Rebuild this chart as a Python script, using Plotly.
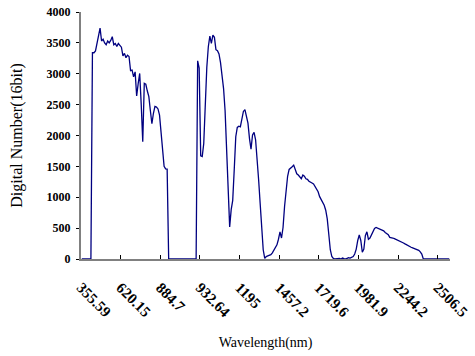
import plotly.graph_objects as go

# Hyperion band index (1..242) and Digital Number values
bands = list(range(1, 243))
dn_values = [
    0, 0, 0, 0, 0, 0, 0, 3340, 3340, 3370,            # 1-10
    3480, 3600, 3740, 3530, 3560, 3500, 3470, 3530, 3500, 3540,  # 11-20
    3600, 3470, 3490, 3440, 3490, 3460, 3430, 3290, 3330, 3260,  # 21-30
    3300, 3280, 3050, 3060, 2950, 3030, 2640, 2840, 3005, 2500,  # 31-40
    1900, 2845, 2830, 2720, 2630, 2400, 2190, 2360, 2470, 2460,  # 41-50
    2430, 2330, 2040, 1720, 1500, 1460, 1455, 0, 0, 0,           # 51-60
    0, 0, 0, 0, 0, 0, 0, 0, 0, 0,                                # 61-70
    0, 0, 0, 0, 0, 0, 3210, 3090, 1670, 1660,                    # 71-80
    1870, 2500, 3100, 3437, 3610, 3490, 3625, 3590, 3390, 3373,  # 81-90
    3320, 3180, 2990, 2760, 2400, 1860, 1240, 520, 800, 950,     # 91-100
    1450, 1980, 2130, 2150, 2140, 2260, 2390, 2420, 2310, 2200,  # 101-110
    1950, 1780, 2010, 2050, 1930, 1650, 1280, 900, 560, 150,     # 111-120
    10, 40, 50, 55, 70, 100, 140, 180, 230, 320,                 # 121-130
    440, 340, 510, 850, 1130, 1340, 1450, 1480, 1495, 1520,      # 131-140
    1430, 1380, 1360, 1320, 1300, 1360, 1340, 1300, 1290, 1260,  # 141-150
    1250, 1230, 1215, 1180, 1140, 1090, 1010, 960, 920, 870,     # 151-160
    790, 650, 400, 150, 40, 10, 0, 5, 0, 10,                     # 161-170
    0, 15, 5, 0, 10, 20, 15, 25, 40, 80,                         # 171-180
    160, 300, 390, 300, 110, 160, 380, 440, 320, 340,            # 181-190
    400, 450, 496, 510, 500, 490, 480, 470, 455, 430,            # 191-200
    410, 395, 350, 350, 340, 330, 320, 300, 290, 280,            # 201-210
    270, 260, 245, 230, 210, 200, 190, 180, 170, 165,            # 211-220
    150, 140, 115, 80, 0, 0, 0, 0, 0, 0,                         # 221-230
    0, 0, 0, 0, 0, 0, 0, 0, 0, 0,                                # 231-240
    0, 0,                                                        # 241-242
]

# category labels shown every 26 bands
label_bands = [1, 27, 53, 79, 105, 131, 157, 183, 209, 235]
label_texts = ["355.59", "620.15", "884.7", "932.64", "1195",
               "1457.2", "1719.6", "1981.9", "2244.2", "2506.5"]
y_ticks = [0, 500, 1000, 1500, 2000, 2500, 3000, 3500, 4000]

SERIF = "Liberation Serif, Times New Roman, serif"

fig = go.Figure()
fig.add_trace(go.Scatter(
    x=bands, y=dn_values, mode="lines",
    line=dict(color="#000080", width=1.3),
    showlegend=False, hoverinfo="x+y",
))

fig.update_layout(
    width=475, height=356,
    margin=dict(l=81, r=25, t=12, b=97),
    paper_bgcolor="white", plot_bgcolor="white",
    font=dict(family=SERIF, color="black"),
)

fig.update_xaxes(
    range=[0.5, 242.5],
    automargin=False,
    tickmode="array",
    tickvals=[b - 0.5 for b in label_bands],
    ticktext=label_texts,
    tickangle=45,
    ticks="inside", ticklen=4, tickwidth=1, tickcolor="black",
    ticklabelstandoff=12,
    tickfont=dict(family=SERIF, size=15, color="black", weight="bold"),
    showline=True, linecolor="#808080", linewidth=2,
    showgrid=False, zeroline=False,
    title=dict(text="Wavelength(nm)", font=dict(family=SERIF, size=14, color="black"), standoff=18),
)

fig.update_yaxes(
    range=[0, 4000],
    automargin=False,
    tickmode="array", tickvals=y_ticks, ticktext=[str(v) for v in y_ticks],
    ticks="outside", ticklen=3, tickwidth=1, tickcolor="black",
    ticklabelstandoff=3,
    tickfont=dict(family=SERIF, size=12, color="black", weight="bold"),
    showline=True, linecolor="#808080", linewidth=2,
    showgrid=False, zeroline=False,
    title=dict(text="Digital Number(16bit)", font=dict(family=SERIF, size=16, color="black"), standoff=20),
)

fig.write_html(
    "out.html",
    config={"displayModeBar": False},
    post_script="document.body.style.margin='0';document.body.style.overflow='hidden';",
)
